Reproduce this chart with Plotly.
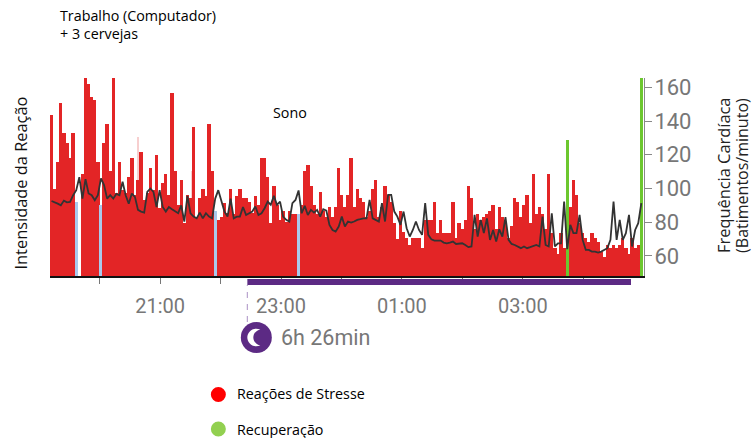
import plotly.graph_objects as go

# time axis: minutes after 19:00
bar_start = 10.7
bar_step = 3.065
range_min = [10.7, 600.3]
hour_ticks = [60, 120, 180, 240, 300, 360, 420, 480, 540]
hour_labels = ["", "21:00", "", "23:00", "", "01:00", "", "03:00", ""]
sleep_start, sleep_end = 206.6, 587.4

# reaction intensity per 3-minute interval
intensity = [
    483,260,343,520,428,398,353,428,223,0,306,594,576,538,528,343,213,398,455,316,
    594,248,343,258,248,296,353,243,288,371,228,248,325,258,362,203,278,306,243,548,
    316,213,288,158,243,233,446,178,233,260,240,455,316,196,168,178,218,188,260,186,
    240,260,233,233,223,
    188,241,213,353,353,298,160,270,213,168,196,163,196,186,186,186,213,316,334,270,
    213,186,251,196,178,206,178,206,325,242,206,242,353,206,260,233,223,178,196,260,
    288,178,206,270,243,223,160,111,196,133,113,93,113,113,113,85,168,168,168,223,
    130,168,130,130,130,
    223,113,158,140,168,270,233,140,186,168,178,186,196,213,140,206,178,158,113,150,
    233,223,178,213,242,158,306,186,206,186,140,306,130,85,66,130,85,408,206,288,
    242,158,130,113,103,130,113,103,73,56,93,85,93,85,93,113,85,66,113,85,93,594,
]
rest_idx = [8, 16, 53, 80]
recovery_idx = [167, 191]
faint_x = [73.0, 98.0, 152.0]
faint_y = [538, 418, 316]

heart_rate = [
    92.6,92,91,90,92.8,91.8,92,96,99,106.7,94,105.5,97,96,93,96,106,102,94,96,
    94,96.8,96,104,96,91,97,95,87.3,86.3,85.7,98,100,98,89,99,89,86.3,89,87.7,
    86.3,85.3,90,80.4,95.6,85.3,83.3,82.3,85.7,82.3,85.3,83.3,82.3,94,99,92,86.3,83.3,94,82.3,
    83.3,83.3,89,84.3,85.3,
    86.3,89.3,84.3,85.3,88.3,92.2,90.3,95.6,90.3,92.2,83.3,81.4,80.4,91.3,93.2,98.8,85.3,89.7,84.3,87.3,
    85.7,87.3,83.3,87.7,86.9,78.4,75.4,74.4,77.4,83.3,77.4,80.4,79.8,80.4,81.4,81.8,82.3,82.3,93.2,82.3,
    81.4,80.4,91.3,80.4,96.2,96.2,86.3,83.3,78.4,86.3,76.4,71.5,75.4,80.4,75.4,72.5,91.3,72.5,69.9,69.1,
    69.1,69.1,67.9,67.5,67.9,
    68.5,67.1,67.1,67.5,66.5,65.2,65.6,84.3,71.5,81.4,73.5,82.3,69.5,75.4,68.5,75.8,71.5,83,69.5,67.1,
    66.5,65.6,64.6,65.6,64.6,65.2,66,66.5,65.6,83.3,66.5,65.6,85.3,65.6,67.5,67.5,92.2,64,78.4,73.5,
    73.5,84.3,69.5,63.6,63.6,62.6,62.6,62,62.6,63.6,64.6,69.5,92.2,69.5,81.4,69.5,73.5,84.3,65.6,75.4,
    79.4,91.3,
]

times = [bar_start + bar_step * (i + 0.5) for i in range(len(intensity))]
hr_times = [bar_start + bar_step * (i + 0.5) for i in range(len(heart_rate))]
special = set(rest_idx) | set(recovery_idx)
stress_x = [t for i, t in enumerate(times) if i not in special]
stress_y = [v for i, v in enumerate(intensity) if i not in special]

W, H = 753, 438
L, R, T, B = 49.5, 644.0, 78.0, 276.0


def px(x):
    return (x - L) / (R - L)


def py(y):
    return (B - y) / (B - T)


fig = go.Figure()
fig.add_bar(x=faint_x, y=faint_y, width=1.0, marker=dict(color="#f7cfcf", line_width=0), name="faint")
fig.add_bar(x=stress_x, y=stress_y, width=bar_step * 1.08, marker=dict(color="#e32526", line_width=0), name="Reações de Stresse")
fig.add_bar(x=[times[i] for i in rest_idx], y=[intensity[i] for i in rest_idx], width=bar_step,
            marker=dict(color="#a9c9ec", line_width=0), name="Repouso")
fig.add_bar(x=[times[i] for i in recovery_idx], y=[intensity[i] for i in recovery_idx], width=bar_step,
            marker=dict(color="#6cc72f", line_width=0), name="Recuperação")
fig.add_scatter(x=hr_times, y=heart_rate, mode="lines", yaxis="y2",
                line=dict(color="#333333", width=1.8), name="Frequência Cardíaca")


def pixel_shape(cx, cy, **kw):
    return dict(xref="paper", yref="paper", xsizemode="pixel", ysizemode="pixel",
                xanchor=px(cx), yanchor=py(cy), **kw)


shapes = [
    dict(type="rect", xref="x", yref="paper", x0=sleep_start, x1=sleep_end, y0=py(285), y1=py(279),
         fillcolor="#5c2a84", line_width=0),
    dict(type="line", xref="x", yref="paper", x0=sleep_start, x1=sleep_start, y0=py(322), y1=py(285),
         line=dict(color="#b9a3cf", width=1.2, dash="6px,6px")),
    pixel_shape(256, 337.5, type="circle", x0=-15.5, x1=15.5, y0=-15.5, y1=15.5, fillcolor="#5c2a84", line_width=0),
    pixel_shape(256, 337.5, type="path",
                path="M 4,8 C -4,11 -9,5 -9,0 C -9,-5 -4,-11 4,-8 C -1,-7 -3,-3 -3,0 C -3,3 -1,7 4,8 Z",
                fillcolor="#ffffff", line_width=0),
    pixel_shape(218, 394.5, type="circle", x0=-7.5, x1=7.5, y0=-7.5, y1=7.5, fillcolor="#ff0000", line_width=0),
    pixel_shape(218, 429, type="circle", x0=-7.5, x1=7.5, y0=-7.5, y1=7.5, fillcolor="#92d050", line_width=0),
]


def note(text, x, y, size=14.3, color="#000000", family="Open Sans"):
    return dict(text=text, xref="paper", yref="paper", x=px(x), y=py(y), xanchor="left", yanchor="middle",
                showarrow=False, font=dict(size=size, color=color, family=family), align="left",
                borderpad=0, borderwidth=0)


def vnote(text, x, y, size=16.4, color="#111111"):
    return dict(text=text, xref="paper", yref="paper", x=px(x), y=py(y), xanchor="center", yanchor="middle",
                showarrow=False, textangle=-90, font=dict(size=size, color=color, family="Open Sans"),
                borderpad=0, borderwidth=0)


annotations = [
    note("Trabalho (Computador)", 60, 15),
    note("+ 3 cervejas", 60, 34),
    note("Sono", 273, 112),
    note("Reações de Stresse", 237, 393),
    note("Recuperação", 237, 429),
    note("6h 26min", 281, 337, size=21.5, color="#777777", family="Roboto"),
    vnote("Intensidade da Reação", 19, 183),
    vnote("Frequência Cardíaca", 723, 175, color="#222222"),
    vnote("(Batimentos/minuto)", 742, 175, size=16, color="#222222"),
]

fig.update_layout(
    width=W, height=H, autosize=False, showlegend=False, barmode="overlay", bargap=0,
    paper_bgcolor="#ffffff", plot_bgcolor="#ffffff",
    margin=dict(l=L, r=W - R, t=T, b=H - B, pad=0),
    shapes=shapes, annotations=annotations,
    font=dict(family="Open Sans"),
    xaxis=dict(range=range_min, tickmode="array", tickvals=hour_ticks, ticktext=hour_labels,
               ticks="outside", ticklen=6, tickwidth=1.2, tickcolor="#777777",
               showgrid=False, zeroline=False, showline=True, linecolor="#111111", linewidth=2,
               tickfont=dict(family="Roboto", size=20, color="#777777"), ticklabelstandoff=5),
    yaxis=dict(range=[0, 594], showticklabels=False, ticks="", showgrid=False, zeroline=False, showline=False),
    yaxis2=dict(overlaying="y", side="right", range=[48.1, 165.5], tickvals=[60, 80, 100, 120, 140, 160],
                ticks="outside", ticklen=7, tickwidth=1.2, tickcolor="#888888",
                showgrid=False, zeroline=False, showline=True, linecolor="#888888", linewidth=1,
                tickfont=dict(family="Roboto", size=22, color="#777777"), ticklabelstandoff=-2),
)

fig.write_html("out.html", post_script="document.body.style.margin='0';", config={"displayModeBar": False})
